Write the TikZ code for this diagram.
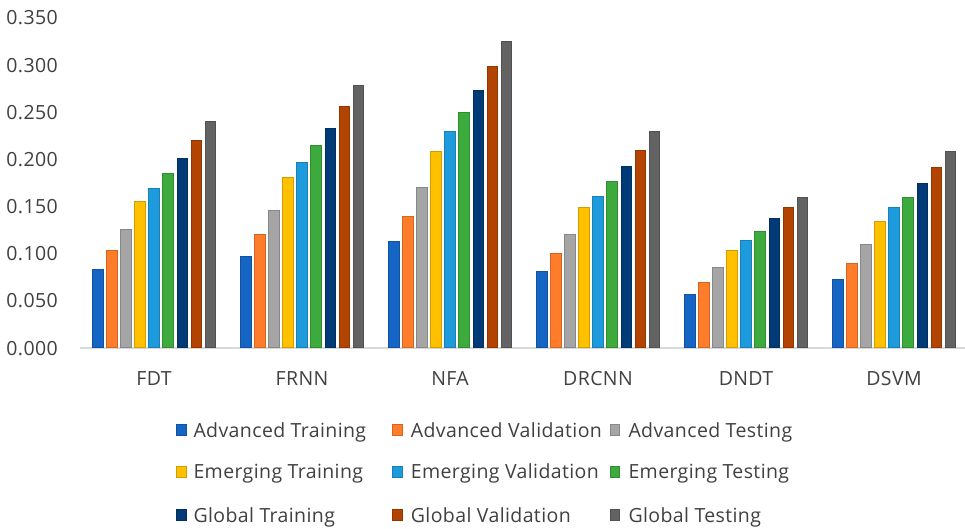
\documentclass[tikz,border=0pt]{standalone}
\usepackage{fontspec}
\setmainfont{Open Sans}[LetterSpace=2]
\definecolor{c1}{HTML}{1565C4}
\definecolor{c2}{HTML}{FF7C2A}
\definecolor{c3}{HTML}{A5A5A5}
\definecolor{c4}{HTML}{FFC000}
\definecolor{c5}{HTML}{1E9BDC}
\definecolor{c6}{HTML}{3CAA3C}
\definecolor{c7}{HTML}{003B78}
\definecolor{c8}{HTML}{B24300}
\definecolor{c9}{HTML}{636363}
\definecolor{txt}{HTML}{404040}
\definecolor{axisc}{HTML}{D9D9D9}
\begin{document}
\begin{tikzpicture}[x=1pt,y=-1pt,
  lbl/.style={font=\fontsize{19.5}{21}\selectfont, text=txt, inner sep=0pt},
  barbox/.style={line width=0.8pt},
  axisline/.style={draw=axisc, line width=1.3pt}]
\useasboundingbox (0,0) rectangle (965,528);
% axis
\draw[axisline] (80,348) -- (965,348);
% tick labels
\foreach \k/\t in {0/0.000,1/0.050,2/0.100,3/0.150,4/0.200,5/0.250,6/0.300,7/0.350}{
  \node[lbl, anchor=base east] (tick\k) at (58,{348-\k*47.15+7}) {\t};
}
% bars
\foreach \g/\nm/\vals in {
  0/FDT/{0.083,0.104,0.126,0.155,0.169,0.185,0.201,0.220,0.240},
  1/FRNN/{0.097,0.120,0.146,0.181,0.197,0.215,0.233,0.256,0.278},
  2/NFA/{0.113,0.140,0.170,0.209,0.230,0.250,0.273,0.299,0.325},
  3/DRCNN/{0.081,0.100,0.120,0.149,0.161,0.177,0.193,0.210,0.230},
  4/DNDT/{0.057,0.070,0.085,0.104,0.114,0.124,0.137,0.149,0.160},
  5/DSVM/{0.073,0.090,0.110,0.134,0.149,0.160,0.175,0.191,0.209}}{
  \pgfmathsetmacro\gc{154+148*\g}
  \foreach \v [count=\j] in \vals {
    \pgfmathsetmacro\xc{\gc+(\j-5)*14.1}
    \pgfmathsetmacro\yt{348-\v*943}
    \filldraw[barbox, fill=c\j, draw=c\j!82!black] (\xc-5.3,347.5) rectangle (\xc+5.3,\yt);
  }
  \node[lbl, anchor=base] (cat\g) at (\gc,385) {\nm};
}
% legend
\foreach \i/\mx/\tx/\ry/\lab in {
  1/176.7/193.3/430/Advanced Training,
  2/392.7/410.7/430/Advanced Validation,
  3/610/628.3/430/Advanced Testing,
  4/176.7/193.3/471.7/Emerging Training,
  5/392.7/410.7/471.7/Emerging Validation,
  6/610/628.3/471.7/Emerging Testing,
  7/176.7/193.3/515/Global Training,
  8/392.7/410.7/515/Global Validation,
  9/610/628.3/515/Global Testing}{
  \filldraw[barbox, fill=c\i, draw=c\i!82!black] (\mx,\ry-5.2) rectangle (\mx+9.5,\ry+5.2);
  \node[lbl, anchor=base west] (leg\i) at (\tx,\ry+7) {\lab};
}
\end{tikzpicture}
\end{document}
